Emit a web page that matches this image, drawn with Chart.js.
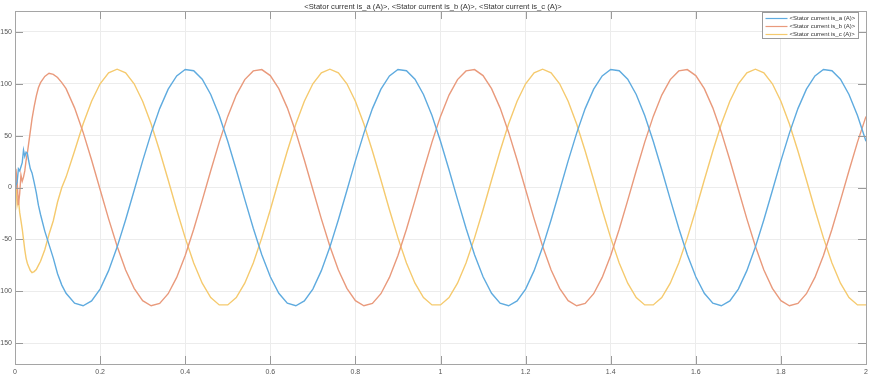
<!DOCTYPE html>
<html>
<head>
<meta charset="utf-8">
<title>Stator current</title>
<script src="https://cdn.jsdelivr.net/npm/chart.js@4.4.1/dist/chart.umd.min.js"></script>
<style>
	html, body { margin: 0; padding: 0; background: #fff; }
	#chart { display: block; }
</style>
</head>
<body>
<canvas id="chart" width="875" height="388"></canvas>
<script>
'use strict'

// время, с (начало - переходный процесс, дальше шаг 0.02)
var time = [0, 0.002, 0.005, 0.008, 0.011, 0.014, 0.017, 0.020, 0.023, 0.026, 0.029, 0.032, 0.036, 0.040, 0.045, 0.050, 0.055, 0.060, 0.070, 0.080, 0.090, 0.100, 0.110,
	0.12, 0.14, 0.16, 0.18, 0.20, 0.22, 0.24, 0.26, 0.28, 0.30, 0.32, 0.34, 0.36, 0.38, 0.40, 0.42, 0.44, 0.46, 0.48, 0.50, 0.52, 0.54, 0.56, 0.58, 0.60,
	0.62, 0.64, 0.66, 0.68, 0.70, 0.72, 0.74, 0.76, 0.78, 0.80, 0.82, 0.84, 0.86, 0.88, 0.90, 0.92, 0.94, 0.96, 0.98, 1.00, 1.02, 1.04, 1.06, 1.08, 1.10,
	1.12, 1.14, 1.16, 1.18, 1.20, 1.22, 1.24, 1.26, 1.28, 1.30, 1.32, 1.34, 1.36, 1.38, 1.40, 1.42, 1.44, 1.46, 1.48, 1.50, 1.52, 1.54, 1.56, 1.58, 1.60,
	1.62, 1.64, 1.66, 1.68, 1.70, 1.72, 1.74, 1.76, 1.78, 1.80, 1.82, 1.84, 1.86, 1.88, 1.90, 1.92, 1.94, 1.96, 1.98, 2.00];

// is_a
var isA = [0, 2, 5, 18, 16, 20, 24, 36, 30, 34, 33, 26, 18, 14, 5, -5, -17, -26, -42, -55, -68, -83, -94,
	-101.9, -111.4, -113.9, -109.3, -97.8, -80.1, -57.4, -31.1, -2.9, 25.6, 52.4, 76.0, 94.7, 107.5, 113.6, 112.5, 104.3, 89.6, 69.3, 44.6, 17.1, -11.4, -39.3, -64.7, -86.0,
	-101.9, -111.4, -113.9, -109.3, -97.8, -80.1, -57.4, -31.1, -2.9, 25.6, 52.4, 76.0, 94.7, 107.5, 113.6, 112.5, 104.3, 89.6, 69.3, 44.6, 17.1, -11.4, -39.3, -64.7, -86.0,
	-101.9, -111.4, -113.9, -109.3, -97.8, -80.1, -57.4, -31.1, -2.9, 25.6, 52.4, 76.0, 94.7, 107.5, 113.6, 112.5, 104.3, 89.6, 69.3, 44.6, 17.1, -11.4, -39.3, -64.7, -86.0,
	-101.9, -111.4, -113.9, -109.3, -97.8, -80.1, -57.4, -31.1, -2.9, 25.6, 52.4, 76.0, 94.7, 107.5, 113.6, 112.5, 104.3, 89.6, 69.3, 44.6];

// is_b
var isB = [0, 18, 6, -17, -6, 12, 6, 10, 16, 26, 33, 42, 54, 66, 78, 88, 96, 101, 107, 110, 109, 106, 101,
	95.2, 76.7, 53.3, 26.5, -1.9, -30.2, -56.6, -79.4, -97.2, -109.0, -113.9, -111.6, -102.3, -86.6, -65.5, -40.2, -12.4, 16.1, 43.7, 68.5, 89.0, 103.9, 112.3, 113.6, 107.8,
	95.2, 76.7, 53.3, 26.5, -1.9, -30.2, -56.6, -79.4, -97.2, -109.0, -113.9, -111.6, -102.3, -86.6, -65.5, -40.2, -12.4, 16.1, 43.7, 68.5, 89.0, 103.9, 112.3, 113.6, 107.8,
	95.2, 76.7, 53.3, 26.5, -1.9, -30.2, -56.6, -79.4, -97.2, -109.0, -113.9, -111.6, -102.3, -86.6, -65.5, -40.2, -12.4, 16.1, 43.7, 68.5, 89.0, 103.9, 112.3, 113.6, 107.8,
	95.2, 76.7, 53.3, 26.5, -1.9, -30.2, -56.6, -79.4, -97.2, -109.0, -113.9, -111.6, -102.3, -86.6, -65.5, -40.2, -12.4, 16.1, 43.7, 68.5];

// is_c
var isC = [0, 5, -17, -11, -24, -32, -40, -50, -60, -68, -73, -76, -80, -82, -81, -79, -75, -71, -60, -45, -32, -14, 0,
	10, 35.2, 61.1, 83.1, 99.9, 110.4, 114, 110.4, 99.9, 83.1, 61.1, 35.2, 7.2, -21.4, -48.5, -72.7, -92.2, -106.0, -113.1, -113.1, -106.0, -92.2, -72.7, -48.5, -21.4,
	7.2, 35.2, 61.1, 83.1, 99.9, 110.4, 114, 110.4, 99.9, 83.1, 61.1, 35.2, 7.2, -21.4, -48.5, -72.7, -92.2, -106.0, -113.1, -113.1, -106.0, -92.2, -72.7, -48.5, -21.4,
	7.2, 35.2, 61.1, 83.1, 99.9, 110.4, 114, 110.4, 99.9, 83.1, 61.1, 35.2, 7.2, -21.4, -48.5, -72.7, -92.2, -106.0, -113.1, -113.1, -106.0, -92.2, -72.7, -48.5, -21.4,
	7.2, 35.2, 61.1, 83.1, 99.9, 110.4, 114, 110.4, 99.9, 83.1, 61.1, 35.2, 7.2, -21.4, -48.5, -72.7, -92.2, -106.0, -113.1, -113.1];

var seriesNames = ['<Stator current is_a (A)>', '<Stator current is_b (A)>', '<Stator current is_c (A)>'];
var seriesColors = ['#5fabdf', '#e99a7c', '#f5ca6e'];
var chartTitle = '<Stator current is_a (A)>, <Stator current is_b (A)>, <Stator current is_c (A)>';
var yTicks = [-150, -100, -50, 0, 50, 100, 150];

var FONT = "'Liberation Sans', Arial, sans-serif";

function toPoints (values) {
	return values.map(function (v, i) { return { x: time[i], y: v }; });
}

// рамка, внутренние засечки и легенда в стиле MATLAB
var scopeFrame = {
	id: 'scopeFrame',
	afterDraw: function (chart) {
		var ctx = chart.ctx,
			area = chart.chartArea,
			xs = chart.scales.x,
			ys = chart.scales.y,
			len = 8;

		ctx.save();
		ctx.strokeStyle = '#9a9a9a';
		ctx.lineWidth = 1;
		ctx.beginPath();
		xs.ticks.forEach(function (t) {
			var px = Math.round(xs.getPixelForValue(t.value)) + 0.5;
			ctx.moveTo(px, area.bottom); ctx.lineTo(px, area.bottom - len);
			ctx.moveTo(px, area.top); ctx.lineTo(px, area.top + len);
		});
		ys.ticks.forEach(function (t) {
			var py = Math.round(ys.getPixelForValue(t.value)) + 0.5;
			ctx.moveTo(area.left, py); ctx.lineTo(area.left + len, py);
			ctx.moveTo(area.right, py); ctx.lineTo(area.right - len, py);
		});
		ctx.stroke();

		ctx.strokeStyle = '#a5a5a5';
		ctx.strokeRect(Math.round(area.left) + 0.5, Math.round(area.top) + 0.5,
			Math.round(area.right - area.left), Math.round(area.bottom - area.top));

		// легенда
		var bw = 96, bh = 26,
			bx = Math.round(area.right - 8 - bw) + 0.5,
			by = Math.round(area.top + 1) + 0.5;
		ctx.fillStyle = '#fff';
		ctx.fillRect(bx, by, bw, bh);
		ctx.strokeStyle = '#9a9a9a';
		ctx.strokeRect(bx, by, bw, bh);
		ctx.font = '6px ' + FONT;
		ctx.textBaseline = 'middle';
		ctx.textAlign = 'left';
		chart.data.datasets.forEach(function (ds, i) {
			var ly = by + 6 + i * 8;
			ctx.strokeStyle = ds.borderColor;
			ctx.lineWidth = 1.2;
			ctx.beginPath();
			ctx.moveTo(bx + 3, ly); ctx.lineTo(bx + 25, ly);
			ctx.stroke();
			ctx.fillStyle = '#333';
			ctx.fillText(ds.label, bx + 27, ly);
		});
		ctx.restore();
	}
};

var datasets = [isA, isB, isC].map(function (values, i) {
	return {
		label: seriesNames[i],
		data: toPoints(values),
		borderColor: seriesColors[i],
		backgroundColor: seriesColors[i],
		borderWidth: 1.4,
		pointRadius: 0,
		tension: 0,
		fill: false
	};
});

var chart = new Chart(document.getElementById('chart'), {
	type: 'line',
	data: { datasets: datasets },
	plugins: [scopeFrame],
	options: {
		responsive: false,
		animation: false,
		layout: { padding: { left: 0, right: 9, top: 0, bottom: 0 } },
		plugins: {
			legend: { display: false },
			tooltip: { enabled: false },
			title: {
				display: true,
				text: chartTitle,
				color: '#333',
				font: { family: FONT, size: 7.6, weight: 'normal', lineHeight: 1 },
				padding: { top: 3, bottom: 0.4 }
			}
		},
		scales: {
			x: {
				type: 'linear',
				min: 0,
				max: 2,
				afterFit: function (scale) { scale.height = 24; },
				ticks: {
					stepSize: 0.2,
					padding: 4,
					maxRotation: 0,
					color: '#555',
					font: { family: FONT, size: 7 },
					callback: function (v) { return +v.toFixed(1) + ''; }
				},
				grid: { color: '#ececec', drawTicks: false },
				border: { display: false }
			},
			y: {
				min: -170,
				max: 170,
				afterFit: function (scale) { scale.width = 15; },
				afterBuildTicks: function (scale) {
					scale.ticks = yTicks.map(function (v) { return { value: v }; });
				},
				ticks: {
					padding: 3,
					color: '#555',
					font: { family: FONT, size: 7 }
				},
				grid: { color: '#ececec', drawTicks: false },
				border: { display: false }
			}
		}
	}
});
</script>
</body>
</html>
